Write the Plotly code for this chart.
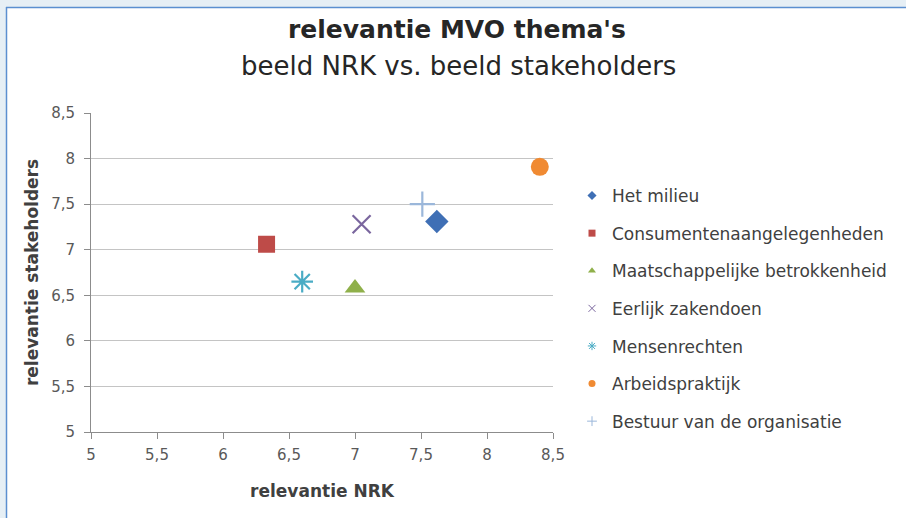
import plotly.graph_objects as go

series = ["Het milieu", "Consumentenaangelegenheden", "Maatschappelijke betrokkenheid",
          "Eerlijk zakendoen", "Mensenrechten", "Arbeidspraktijk", "Bestuur van de organisatie"]
nrk = [7.62, 6.33, 7.0, 7.05, 6.6, 8.4, 7.51]
stakeholders = [7.31, 7.06, 6.58, 7.28, 6.65, 7.91, 7.5]
colors = ["#3F6FB5", "#BE4B48", "#8FB04A", "#7A669E", "#4AACC5", "#F08A32", "#9BB7DA"]
symbols = ["diamond", "square", "triangle-up", "x-thin-open", "asterisk-open", "circle", "cross-thin-open"]
sizes = [18, 17, 18, 18, 18, 18, 18]
ticks = [5, 5.5, 6, 6.5, 7, 7.5, 8, 8.5]
tick_labels = ["5", "5,5", "6", "6,5", "7", "7,5", "8", "8,5"]

W, H = 906, 518
L, R, T, B = 91, 353, 113, 86
pw, ph = W - L - R, H - T - B
FONT = "DejaVu Sans, Arial, sans-serif"

def px(x):
    return (x - L) / pw

def py(y):
    return 1 - (y - T) / ph

fig = go.Figure()
for i, name in enumerate(series):
    line_sym = symbols[i].endswith("open")
    fig.add_trace(go.Scatter(
        x=[nrk[i]], y=[stakeholders[i]], mode="markers", name=name, showlegend=False,
        marker=dict(symbol=symbols[i], size=sizes[i], color=colors[i],
                    line=dict(color=colors[i], width=2.2 if line_sym else 0)),
    ))
for i, name in enumerate(series):
    line_sym = symbols[i].endswith("open")
    fig.add_trace(go.Scatter(
        x=[None], y=[None], mode="markers", name=name, legendgroup=name,
        marker=dict(symbol=symbols[i], size=7, color=colors[i],
                    line=dict(color=colors[i], width=1 if line_sym else 0)),
    ))

fig.update_layout(
    width=W, height=H,
    margin=dict(l=L, r=R, t=T, b=B),
    paper_bgcolor="white", plot_bgcolor="white",
    font=dict(family=FONT, color="#404040"),
    showlegend=True,
    legend=dict(x=px(572), y=py(178), xanchor="left", yanchor="top",
                font=dict(family=FONT, size=17, color="#404040"), tracegroupgap=12.5,
                itemwidth=30, bgcolor="rgba(0,0,0,0)"),
    xaxis=dict(range=[5, 8.5], tickvals=ticks, ticktext=tick_labels, showgrid=False,
               zeroline=False, showline=True, linecolor="#8C8C8C", linewidth=1,
               ticks="outside", ticklen=6, tickcolor="#8C8C8C", ticklabelstandoff=3,
               tickfont=dict(family=FONT, size=15, color="#595959"),
               title=dict(text="<b>relevantie NRK</b>", font=dict(family=FONT, size=17, color="#404040"), standoff=22)),
    yaxis=dict(range=[5, 8.5], tickvals=ticks, ticktext=tick_labels, showgrid=True,
               gridcolor="#C4C4C4", gridwidth=1,
               zeroline=False, showline=True, linecolor="#8C8C8C", linewidth=1,
               ticks="outside", ticklen=6, tickcolor="#8C8C8C", ticklabelstandoff=6,
               tickfont=dict(family=FONT, size=15, color="#595959"),
               title=dict(text="<b>relevantie stakeholders</b>", font=dict(family=FONT, size=17, color="#404040"), standoff=8)),
    shapes=[
        dict(type="rect", xref="paper", yref="paper", x0=px(0), x1=px(W), y0=py(0), y1=py(7),
             fillcolor="#E6EFF5", line=dict(width=0), layer="below"),
        dict(type="rect", xref="paper", yref="paper", x0=px(0), x1=px(6), y0=py(0), y1=py(H),
             fillcolor="#E6EFF5", line=dict(width=0), layer="below"),
        dict(type="line", xref="paper", yref="paper", x0=px(6), x1=px(W), y0=py(7.5), y1=py(7.5),
             line=dict(color="#5B8FD0", width=1.5)),
        dict(type="line", xref="paper", yref="paper", x0=px(6.5), x1=px(6.5), y0=py(7), y1=py(H),
             line=dict(color="#5B8FD0", width=1.5)),
    ],
    annotations=[
        dict(text="<b>relevantie MVO thema's</b>", xref="paper", yref="paper", x=px(457), y=py(30),
             showarrow=False, font=dict(family=FONT, size=25, color="#262626"), xanchor="center", yanchor="middle"),
        dict(text="beeld NRK vs. beeld stakeholders", xref="paper", yref="paper", x=px(458), y=py(66),
             showarrow=False, font=dict(family=FONT, size=26, color="#262626"), xanchor="center", yanchor="middle"),
    ],
)

fig.write_html("out.html", config={"displayModeBar": False},
               post_script="document.body.style.margin='0';")
